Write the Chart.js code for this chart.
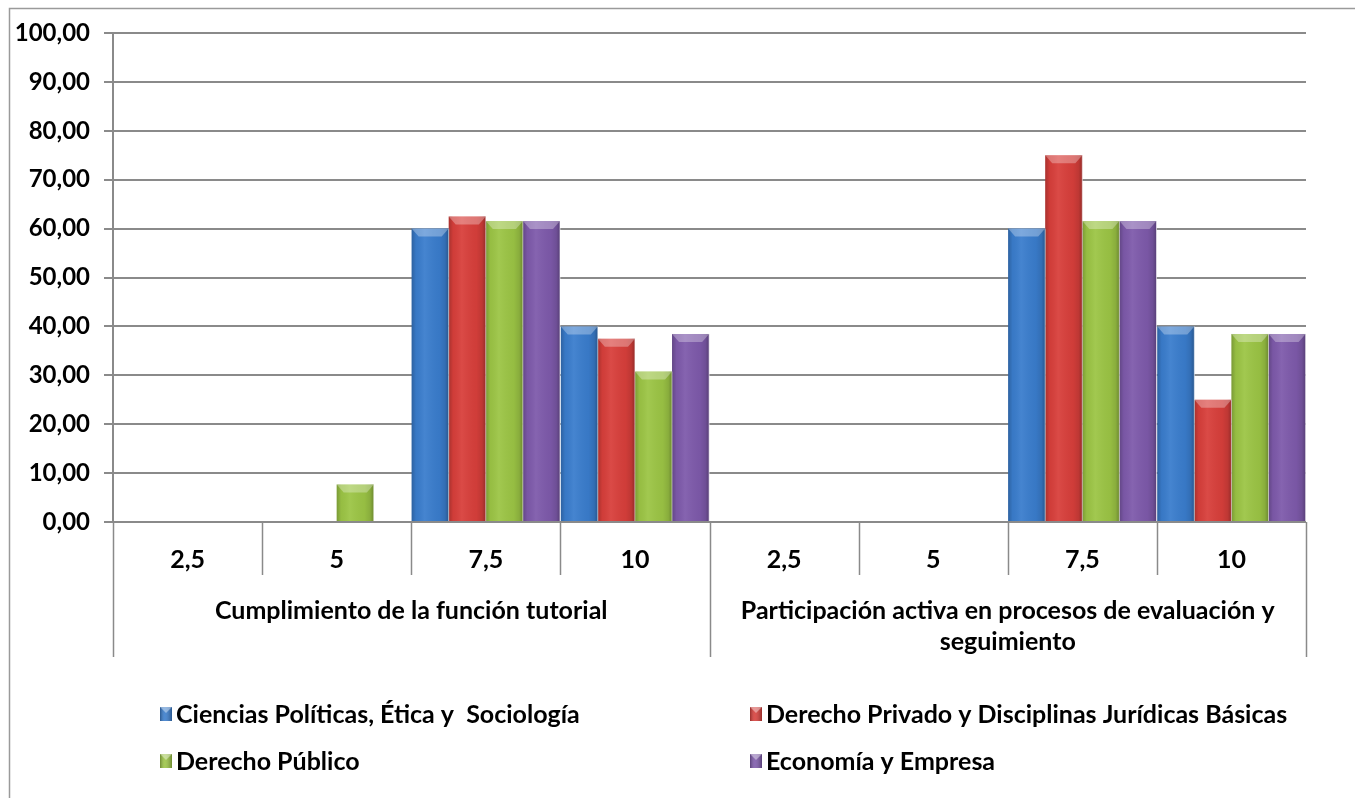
<!DOCTYPE html>
<html>
<head>
<meta charset="utf-8">
<script src="https://cdn.jsdelivr.net/npm/chart.js@4"></script>
<style>
  html, body { margin: 0; padding: 0; background: #fff; }
  #grafico { display: block; }
</style>
</head>
<body>
<canvas id="grafico" width="1355" height="798"></canvas>
<script>
// categorias del eje x (nivel 1) y grupos (nivel 2)
const categorias = ['2,5', '5', '7,5', '10', '2,5', '5', '7,5', '10'];
const grupos = [
  ['Cumplimiento de la función tutorial'],
  ['Participación activa en procesos de evaluación y', 'seguimiento']
];
const porGrupo = 4;

// series (porcentajes)
const nombresSeries = [
  'Ciencias Políticas, Ética y  Sociología',
  'Derecho Privado y Disciplinas Jurídicas Básicas',
  'Derecho Público',
  'Economía y Empresa'
];
const cienciasPoliticas = [0, 0, 60, 40, 0, 0, 60, 40];
const derechoPrivado = [0, 0, 62.5, 37.5, 0, 0, 75, 25];
const derechoPublico = [0, 7.69, 61.54, 30.77, 0, 0, 61.54, 38.46];
const economiaEmpresa = [0, 0, 61.54, 38.46, 0, 0, 61.54, 38.46];

const colores = ['#3a7dcd', '#d83f3b', '#9cc545', '#7e5aab'];
const fuente = 'Lato, "DejaVu Sans", sans-serif';
const gris = '#8a8a8a';

// sombreado tipo Excel encima de cada barra
const biselBarras = {
  id: 'biselBarras',
  afterDatasetsDraw(chart) {
    const ctx = chart.ctx;
    chart.data.datasets.forEach((ds, i) => {
      const meta = chart.getDatasetMeta(i);
      meta.data.forEach(bar => {
        const p = bar.getProps(['x', 'y', 'width', 'base'], true);
        const h = p.base - p.y;
        if (h < 1) return;
        const l = p.x - p.width / 2, r = p.x + p.width / 2;
        ctx.save();
        const g = ctx.createLinearGradient(l, 0, r, 0);
        g.addColorStop(0, 'rgba(0,0,0,0.22)');
        g.addColorStop(0.12, 'rgba(0,0,0,0.04)');
        g.addColorStop(0.35, 'rgba(255,255,255,0.06)');
        g.addColorStop(0.75, 'rgba(0,0,0,0.04)');
        g.addColorStop(0.9, 'rgba(0,0,0,0.12)');
        g.addColorStop(1, 'rgba(0,0,0,0.3)');
        ctx.fillStyle = g;
        ctx.fillRect(l, p.y, r - l, h);
        // bisel superior
        const b = Math.min(8, h / 2);
        ctx.beginPath();
        ctx.moveTo(l, p.y);
        ctx.lineTo(r, p.y);
        ctx.lineTo(r - 7, p.y + b);
        ctx.lineTo(l + 7, p.y + b);
        ctx.closePath();
        ctx.fillStyle = 'rgba(255,255,255,0.3)';
        ctx.fill();
        // separación clara entre barras
        ctx.fillStyle = 'rgba(255,255,255,0.6)';
        ctx.fillRect(r - 0.5, p.y, 1, h);
        ctx.restore();
      });
    });
  }
};

// ejes de dos niveles, leyenda y marco
const extras = {
  id: 'extras',
  afterDraw(chart) {
    const ctx = chart.ctx;
    const x = chart.scales.x;
    const area = chart.chartArea;
    const ancho = x.getPixelForValue(1) - x.getPixelForValue(0);
    const borde = i => x.getPixelForValue(i) - ancho / 2;
    const y0 = area.bottom, y1 = y0 + 53, y2 = y0 + 135;

    ctx.save();
    ctx.strokeStyle = gris;
    ctx.lineWidth = 1.5;
    for (let i = 0; i <= categorias.length; i++) {
      const px = Math.round(borde(i)) + 0.5;
      const fin = (i % porGrupo === 0) ? y2 : y1;
      ctx.beginPath();
      ctx.moveTo(px, y0);
      ctx.lineTo(px, fin);
      ctx.stroke();
    }

    ctx.fillStyle = '#000';
    ctx.textAlign = 'center';
    ctx.textBaseline = 'middle';
    ctx.font = 'bold 25px ' + fuente;
    categorias.forEach((c, i) => {
      ctx.fillText(c, x.getPixelForValue(i), y0 + 38);
    });
    grupos.forEach((lineas, g) => {
      const cx = (borde(g * porGrupo) + borde((g + 1) * porGrupo)) / 2;
      lineas.forEach((t, k) => {
        ctx.fillText(t, cx, y0 + 89 + k * 31);
      });
    });

    // leyenda 2x2
    const colX = [160, 750], filaY = [714, 761];
    ctx.textAlign = 'left';
    nombresSeries.forEach((n, i) => {
      const mx = colX[i % 2], my = filaY[Math.floor(i / 2)];
      const col = chart.data.datasets[i].backgroundColor;
      ctx.fillStyle = col;
      ctx.fillRect(mx, my - 7, 12, 14);
      const g = ctx.createLinearGradient(mx, 0, mx + 12, 0);
      g.addColorStop(0, 'rgba(0,0,0,0.3)');
      g.addColorStop(0.4, 'rgba(255,255,255,0.1)');
      g.addColorStop(1, 'rgba(0,0,0,0.3)');
      ctx.fillStyle = g;
      ctx.fillRect(mx, my - 7, 12, 14);
      ctx.fillStyle = 'rgba(255,255,255,0.4)';
      ctx.beginPath();
      ctx.moveTo(mx, my - 7);
      ctx.lineTo(mx + 12, my - 7);
      ctx.lineTo(mx + 6, my - 1);
      ctx.closePath();
      ctx.fill();
      ctx.fillStyle = '#000';
      ctx.fillText(n, mx + 16, my + 1);
    });

    // marco exterior (recortado a la derecha y abajo)
    ctx.strokeStyle = '#9a9a9a';
    ctx.lineWidth = 1.5;
    ctx.beginPath();
    ctx.moveTo(9.5, chart.height);
    ctx.lineTo(9.5, 8.5);
    ctx.lineTo(chart.width, 8.5);
    ctx.stroke();
    ctx.restore();
  }
};

const datos = [cienciasPoliticas, derechoPrivado, derechoPublico, economiaEmpresa];

new Chart(document.getElementById('grafico'), {
  type: 'bar',
  data: {
    labels: categorias,
    datasets: datos.map((d, i) => ({
      label: nombresSeries[i],
      data: d,
      backgroundColor: colores[i],
      borderWidth: 0,
      barPercentage: 1,
      categoryPercentage: 0.995
    }))
  },
  options: {
    responsive: false,
    animation: false,
    layout: { padding: { top: 33, right: 49, bottom: 0, left: 0 } },
    plugins: {
      legend: { display: false },
      tooltip: { enabled: false }
    },
    scales: {
      x: {
        grid: { display: false },
        border: { display: false },
        ticks: { display: false },
        afterFit(s) { s.height = 276; }
      },
      y: {
        min: 0,
        max: 100,
        ticks: {
          stepSize: 10,
          padding: 14,
          color: '#000',
          font: { family: fuente, size: 24, weight: 'bold' },
          callback: v => v.toFixed(2).replace('.', ',')
        },
        grid: { color: gris, lineWidth: 2, tickLength: 9 },
        border: { display: true, color: gris, width: 2 },
        afterFit(s) { s.width = 113; }
      }
    }
  },
  plugins: [biselBarras, extras]
});
</script>
</body>
</html>
